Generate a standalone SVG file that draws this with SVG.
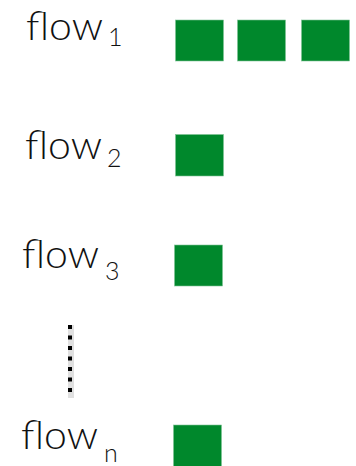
<svg xmlns="http://www.w3.org/2000/svg" width="356" height="466" viewBox="0 0 356 466">
<style>
.lbl{font-family:Lato,"Open Sans","Liberation Sans",sans-serif;font-weight:300;font-size:40px;fill:#111}
.sub{font-size:25px}
.pkt{fill:#00882C;stroke:#7fc497;stroke-width:0.6}
</style>
<rect width="356" height="466" fill="#fff"/>
<g id="flow1">
<text class="lbl" x="26" y="40" textLength="77" lengthAdjust="spacingAndGlyphs">flow</text>
<text class="lbl sub" x="108" y="46">1</text>
<rect class="pkt" x="175.5" y="20" width="48" height="41"/>
<rect class="pkt" x="237.5" y="20" width="48" height="41"/>
<rect class="pkt" x="301.5" y="20" width="48" height="41"/>
</g>
<g id="flow2">
<text class="lbl" x="25" y="159" textLength="77" lengthAdjust="spacingAndGlyphs">flow</text>
<text class="lbl sub" x="107" y="167">2</text>
<rect class="pkt" x="175.5" y="134.5" width="48" height="41.5"/>
</g>
<g id="flow3">
<text class="lbl" x="22" y="268" textLength="77" lengthAdjust="spacingAndGlyphs">flow</text>
<text class="lbl sub" x="105" y="280">3</text>
<rect class="pkt" x="174.5" y="245" width="48" height="41"/>
</g>
<g id="flown">
<text class="lbl" x="21" y="449" textLength="77" lengthAdjust="spacingAndGlyphs">flow</text>
<text class="lbl sub" x="104" y="462">n</text>
<rect class="pkt" x="173.5" y="425" width="48" height="45"/>
</g>
<g id="connectors">
<line x1="71" y1="325" x2="71" y2="398" stroke="#ccc" stroke-width="6" opacity="0.6"/>
<line x1="70" y1="325" x2="70" y2="393" stroke="#000" stroke-width="4" stroke-dasharray="4 6.5"/>
</g>
</svg>
